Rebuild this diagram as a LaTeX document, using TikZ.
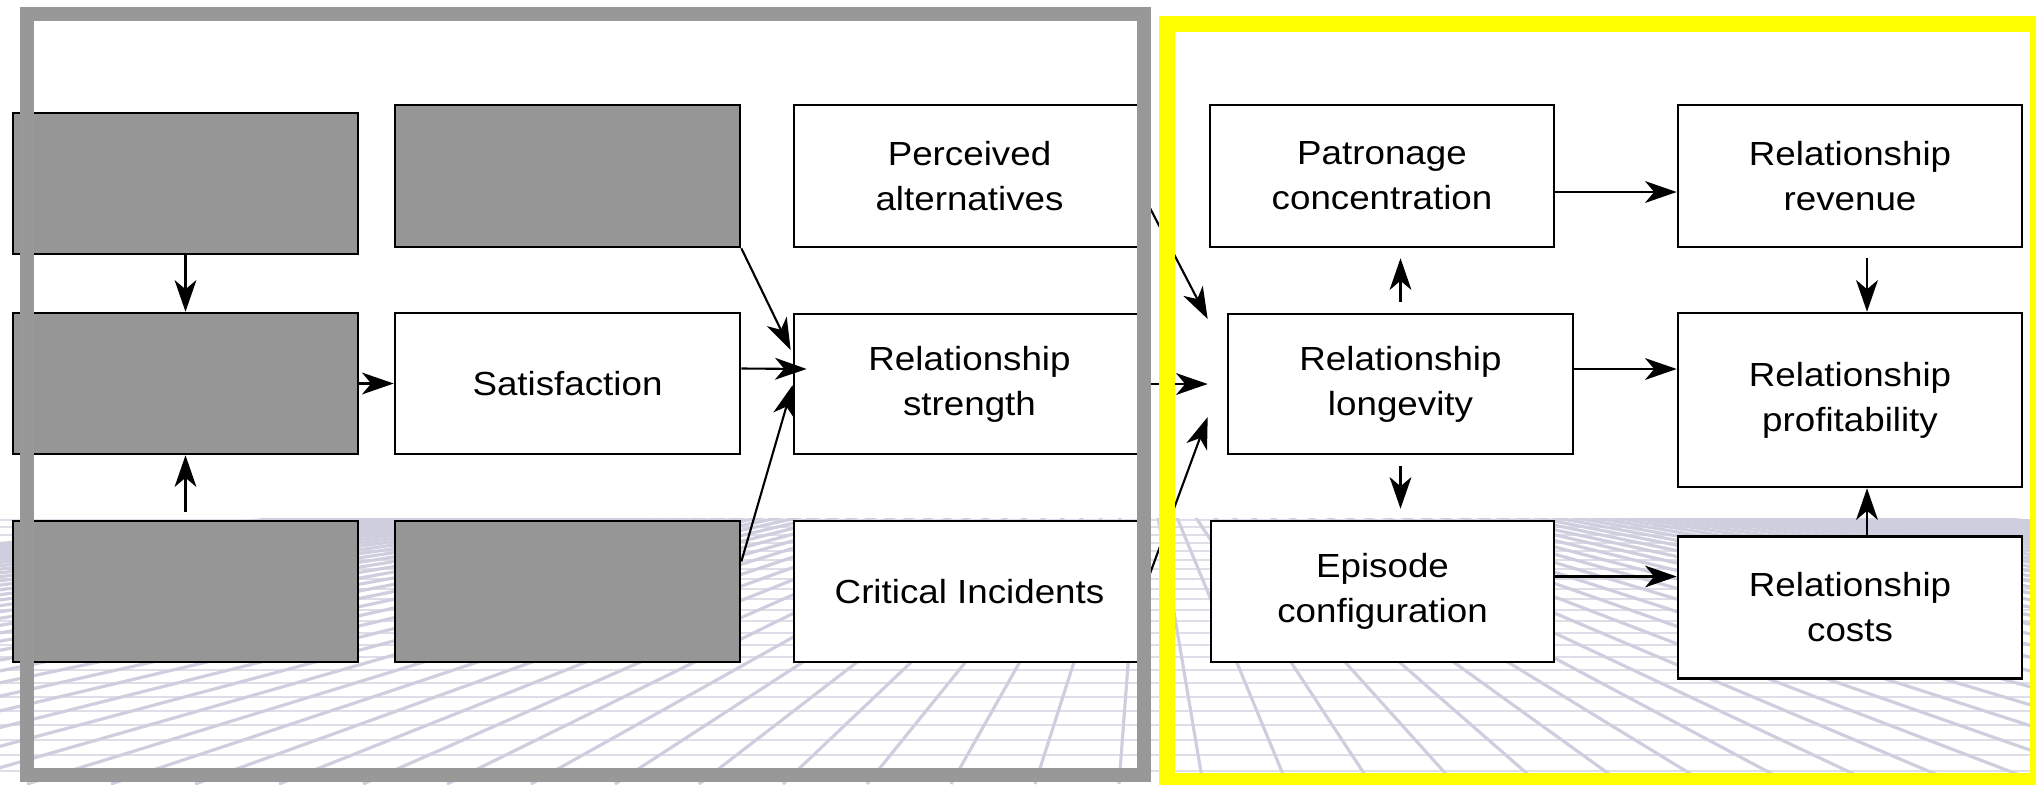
\documentclass[tikz,border=0pt]{standalone}
\usepackage{fontspec}
\setmainfont{Liberation Sans}[FakeStretch=1.1]
\usetikzlibrary{arrows.meta,calc}
\definecolor{boxgray}{RGB}{150,150,150}
\definecolor{framegray}{RGB}{152,152,152}
\definecolor{gridv}{RGB}{206,206,222}
\definecolor{gridh}{RGB}{222,222,232}
\definecolor{hiyellow}{RGB}{255,255,0}
\begin{document}
\begin{tikzpicture}[x=0.01cm,y=-0.01cm,
  box/.style n args={2}{draw=black, line width=0.7pt, fill=white, rectangle,
    inner sep=0pt, minimum width=#1, minimum height=#2, align=center,
    font=\fontsize{9.5}{12.8}\selectfont},
  shaded/.style={fill=boxgray},
  arr/.style={-{Stealth[length=9pt,width=6.2pt,inset=2.6pt]}, line width=0.6pt},
  hline/.style={draw=gridh, line width=0.5pt},
  rline/.style={draw=gridv, line width=0.9pt}]
\useasboundingbox (0,0) rectangle (2036,784);
\clip (0,0) rectangle (2036,784);

% perspective floor in the lower band
\begin{scope}
  \clip (0,518) rectangle (2036,784);
  \foreach \i in {0,...,23} {
    \pgfmathsetmacro\yy{520+7*\i+0.2*\i*\i}
    \draw[hline] (0,\yy) -- (2036,\yy);
  }
  \foreach \k in {-45,...,45} {
    \pgfmathsetmacro\xb{1119+84*\k}
    \draw[rline] (1145,440) -- (\xb,784);
  }
\end{scope}

% first column (unlabelled)
\node[box={3.45cm}{1.41cm}, shaded] (A1) at (185.5,183.5) {};
\node[box={3.45cm}{1.41cm}, shaded] (B1) at (185.5,383.5) {};
\node[box={3.45cm}{1.41cm}, shaded] (C1) at (185.5,591.5) {};
% second column
\node[box={3.45cm}{1.42cm}, shaded] (A2) at (567.5,176) {};
\node[box={3.45cm}{1.41cm}] (Sat) at (567.5,383.5) {Satisfaction};
\node[box={3.45cm}{1.41cm}, shaded] (C2) at (567.5,591.5) {};
% third column
\node[box={3.51cm}{1.42cm}] (PA) at (969.5,176) {Perceived\\alternatives};
\node[box={3.51cm}{1.40cm}] (RS) at (969.5,384) {Relationship\\strength};
\node[box={3.51cm}{1.41cm}] (CI) at (969.5,591.5) {Critical Incidents};
% fourth column
\node[box={3.44cm}{1.42cm}] (PC) at (1382,176) {Patronage\\concentration};
\node[box={3.45cm}{1.40cm}] (RL) at (1400.5,384) {Relationship\\longevity};
\node[box={3.43cm}{1.41cm}] (EC) at (1382.5,591.5) {Episode\\configuration};
% fifth column
\node[box={3.44cm}{1.42cm}] (RR) at (1850,176) {Relationship\\revenue};
\node[box={3.44cm}{1.74cm}] (RP) at (1850,400) {Relationship\\profitability};
\node[box={3.44cm}{1.42cm}] (RC) at (1850,607.5) {Relationship\\costs};

% connectors on the left
\draw[arr] (A1.south) -- (B1.north);
\draw[arr] ($(C1.north)+(0,-8)$) -- (B1.south);
\draw[arr] (B1.east) -- (Sat.west);
\draw[arr] (A2.south east) -- ($(RS.west)+(-2,-34)$);
\draw[arr] ($(Sat.east)+(0,-15)$) -- ($(RS.west)+(14,-15)$);
\draw[arr] ($(C2.east)+(0,-30)$) -- ($(RS.west)+(0,1)$);
% connectors into longevity
\draw[arr] ($(PA.east)+(0,25)$) -- ($(RL.west)+(-19,-65)$);
\draw[arr] (RS.east) -- ($(RL.west)+(-19,0)$);
\draw[arr] ($(CI.east)+(0,-8)$) -- ($(RL.west)+(-19,33)$);
% connectors on the right
\draw[arr] ($(RL.north)+(0,-11)$) -- ($(RL.north |- PC.south)+(0,10)$);
\draw[arr] ($(RL.south)+(0,11)$) -- ($(RL.south |- EC.north)+(0,-11)$);
\draw[arr] ($(RL.east)+(0,-15)$) -- ($(RP.west)+(0,-31)$);
\draw[arr] ($(PC.east)+(0,16)$) -- ($(RR.west)+(0,16)$);
\draw[arr] ($(RR.south)+(17,10)$) -- ($(RP.north)+(17,0)$);
\draw[arr] ($(RC.north)+(17,0)$) -- ($(RP.south)+(17,0)$);
\draw[arr] ($(EC.east)+(0,-15)$) -- ($(RC.west)+(0,-31)$);

% grouping frames
\draw[framegray, line width=0.14cm] (27,14) rectangle (1143.5,774.5);
\draw[hiyellow, line width=0.16cm] (1167,23.5) rectangle (2038,781);
\end{tikzpicture}
\end{document}
